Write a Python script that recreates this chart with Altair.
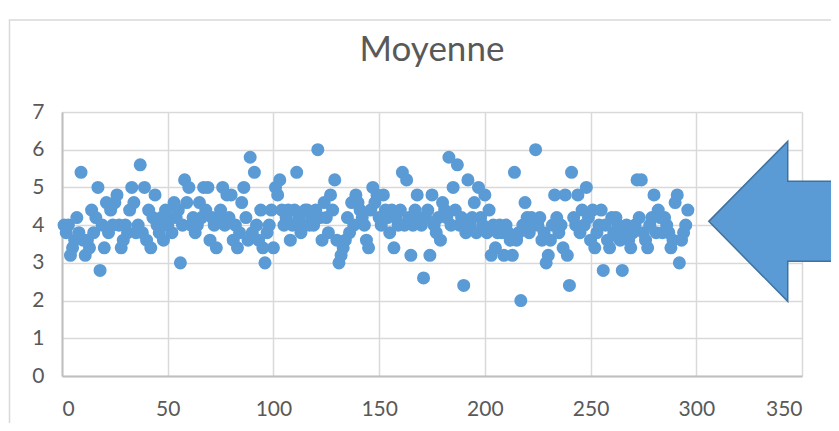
import altair as alt
import pandas as pd

# Values (Moyenne) for indices 1..296
moyenne = [
    4.0, 3.8, 4.0, 3.2, 3.4, 3.6, 4.2, 3.8, 5.4, 3.6,
    3.2, 3.6, 3.4, 4.4, 3.8, 4.2, 5.0, 2.8, 4.0, 3.4,
    4.6, 3.8, 4.4, 4.0, 4.6, 4.8, 4.0, 3.4, 3.6, 4.0,
    3.8, 4.4, 5.0, 4.6, 3.8, 4.0, 5.6, 3.8, 5.0, 3.6,
    4.4, 3.4, 4.2, 4.8, 4.0, 3.8, 4.2, 3.6, 4.4, 4.0,
    4.2, 3.8, 4.6, 4.2, 4.4, 3.0, 4.0, 5.2, 4.6, 5.0,
    4.0, 4.2, 3.8, 4.0, 4.6, 4.2, 5.0, 4.4, 5.0, 3.6,
    4.2, 4.0, 3.4, 4.2, 4.4, 5.0, 4.0, 4.8, 4.2, 4.8,
    3.6, 4.0, 3.4, 3.8, 4.6, 5.0, 4.2, 3.6, 5.8, 3.8,
    5.4, 4.0, 3.6, 4.4, 3.4, 3.0, 3.8, 4.0, 4.4, 3.4,
    5.0, 4.8, 5.2, 4.4, 4.0, 4.2, 4.4, 3.6, 4.0, 4.4,
    5.4, 4.2, 3.8, 4.0, 4.4, 4.4, 4.0, 4.2, 4.0, 4.4,
    6.0, 4.2, 3.6, 4.6, 4.2, 3.8, 4.8, 4.4, 5.2, 3.6,
    3.0, 3.2, 3.4, 3.6, 4.2, 3.8, 4.6, 4.0, 4.8, 4.6,
    4.4, 4.2, 4.0, 3.6, 3.4, 4.4, 5.0, 4.6, 4.8, 4.2,
    4.0, 4.8, 4.4, 4.2, 3.8, 4.4, 3.4, 4.2, 4.0, 4.4,
    5.4, 4.0, 5.2, 4.2, 3.2, 4.0, 4.4, 4.8, 4.2, 4.0,
    2.6, 4.2, 4.4, 3.2, 4.8, 4.0, 3.8, 4.2, 3.6, 4.6,
    4.4, 4.2, 5.8, 4.0, 5.0, 4.4, 5.6, 4.0, 4.2, 2.4,
    3.8, 5.2, 4.0, 4.2, 4.6, 3.8, 5.0, 4.2, 4.0, 4.8,
    3.8, 4.4, 3.2, 4.0, 3.4, 3.8, 4.0, 3.8, 3.2, 4.0,
    3.8, 3.6, 3.2, 5.4, 3.6, 3.8, 2.0, 4.0, 4.6, 4.2,
    3.8, 4.2, 4.0, 6.0, 4.0, 4.2, 3.6, 3.8, 3.0, 3.2,
    3.6, 4.0, 4.8, 4.2, 3.8, 4.0, 3.4, 4.8, 3.2, 2.4,
    5.4, 4.2, 4.0, 4.8, 3.8, 4.4, 4.0, 5.0, 4.2, 3.6,
    4.4, 3.4, 3.8, 4.0, 4.4, 2.8, 4.0, 3.6, 3.4, 4.2,
    3.8, 4.2, 4.0, 3.6, 2.8, 3.8, 4.0, 3.6, 3.4, 3.8,
    4.0, 5.2, 4.2, 5.2, 3.8, 3.6, 3.4, 4.0, 4.2, 4.8,
    3.8, 4.4, 4.2, 3.8, 4.2, 4.0, 3.8, 3.4, 3.6, 4.6,
    4.8, 3.0, 3.6, 3.8, 4.0, 4.4,
]
index = list(range(1, len(moyenne) + 1))

x_ticks = [0, 50, 100, 150, 200, 250, 300, 350]
y_ticks = [0, 1, 2, 3, 4, 5, 6, 7]

# Annotation arrow (block arrow pointing left), anchored in data units
arrow_x = [341.7]
arrow_y = [4.1]
arrow_path = "M -0.946 0 L 0.041 -1 L 0.041 -0.5 L 1.2 -0.5 L 1.2 0.5 L 0.041 0.5 L 0.041 1 Z"

df = pd.DataFrame({"index": index, "Moyenne": moyenne})
arrow_df = pd.DataFrame({"x": arrow_x, "y": arrow_y})
frame_df = pd.DataFrame({"a": [0]})

FONT = "Lato"
GRAY = "#595959"

xs = alt.Scale(domain=[0, 350], nice=False, zero=False)
ys = alt.Scale(domain=[0, 7], nice=False)

axis_style = dict(grid=True, ticks=False, domainColor="#BFBFBF", domainWidth=2,
                  labelFont=FONT, labelFontSize=21, labelColor=GRAY,
                  gridColor="#D9D9D9", gridWidth=1.5, labelOverlap=False, title=None)
x_axis = alt.Axis(values=x_ticks, labelPadding=22, **axis_style)
y_axis = alt.Axis(values=y_ticks, labelPadding=18, **axis_style)

points = alt.Chart(df).mark_circle(size=170, color="#5B9BD5", opacity=1).encode(
    x=alt.X("index:Q", scale=xs, title=None, axis=x_axis),
    y=alt.Y("Moyenne:Q", scale=ys, title=None, axis=y_axis),
)

arrow = alt.Chart(arrow_df).mark_point(
    shape=arrow_path, size=25600, filled=True, fill="#5B9BD5",
    stroke="#41719C", strokeWidth=1.5, opacity=1, fillOpacity=1,
).encode(
    x=alt.X("x:Q", scale=xs, title=None, axis=x_axis),
    y=alt.Y("y:Q", scale=ys, title=None, axis=y_axis),
)

frame = alt.Chart(frame_df).mark_rect(fill=None, stroke="#D9D9D9", strokeWidth=1.5).encode(
    x=alt.value(-52.5), x2=alt.value(1000), y=alt.value(-92), y2=alt.value(600)
)

chart = alt.layer(frame, points, arrow).properties(
    width=740,
    height=264,
    title=alt.TitleParams("Moyenne", font=FONT, fontSize=35, fontWeight="normal",
                          color=GRAY, anchor="middle", offset=-49),
    autosize=alt.AutoSizeParams(type="none"),
    padding={"left": 54, "top": 104, "right": 29, "bottom": 47},
    background="white",
).configure_view(
    stroke=None
)

chart.save("out.html", embed_options={"renderer": "svg", "actions": False})
